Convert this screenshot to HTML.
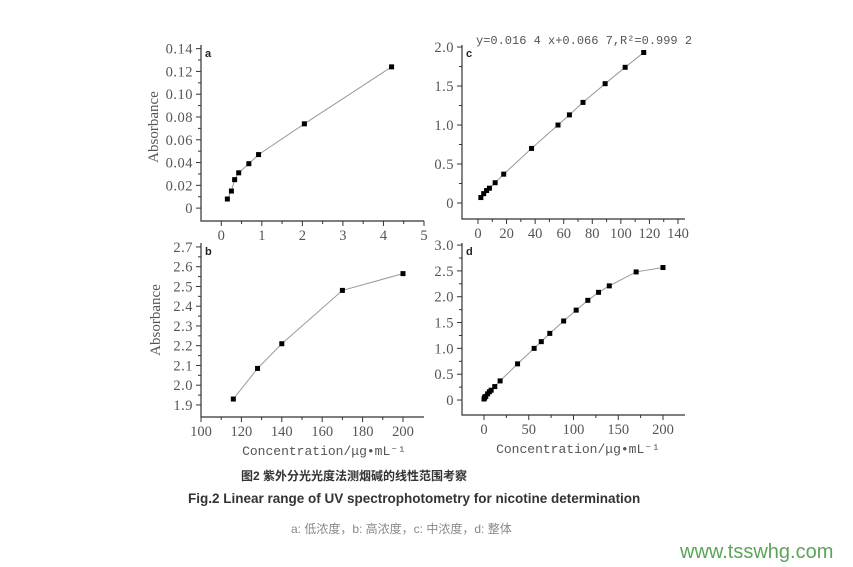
<!DOCTYPE html>
<html><head><meta charset="utf-8"><style>
body{margin:0;background:#fff;width:853px;height:567px;overflow:hidden;position:relative;font-family:"Liberation Sans","Noto Sans CJK SC",sans-serif}
.t{position:absolute;white-space:nowrap}
</style></head><body>
<svg id="chart" width="853" height="567" style="position:absolute;left:0;top:0"></svg>
<div class="t" style="left:241px;top:467px;font-size:12px;font-weight:bold;color:#333">图2 紫外分光光度法测烟碱的线性范围考察</div>
<div class="t" style="left:188px;top:491px;font-size:13.5px;font-weight:bold;color:#333">Fig.2 Linear range of UV spectrophotometry for nicotine determination</div>
<div class="t" style="left:291px;top:520px;font-size:12px;color:#888">a: 低浓度，b: 高浓度，c: 中浓度，d: 整体</div>
<div class="t" style="left:680px;top:541px;font-size:20px;color:#5aa55a">www.tsswhg.com</div>
<script>
const aX=[0.15,0.25,0.33,0.43,0.68,0.92,2.05,4.2];
const aY=[0.008,0.015,0.025,0.031,0.039,0.047,0.074,0.124];
const bX=[116,128,140,170,200];
const bY=[1.93,2.085,2.21,2.48,2.565];
const cX=[2,4,6,8,12,18,37.5,56,64,73.5,89,103,116];
const cY=[0.07,0.12,0.16,0.19,0.26,0.37,0.7,1.0,1.13,1.29,1.53,1.74,1.93];
const dX=[0,0.5,1,2,4,6,8,12,18,37.5,56,64,73.5,89,103,116,128,140,170,200];
const dY=[0.02,0.04,0.06,0.07,0.12,0.16,0.19,0.26,0.37,0.7,1.0,1.13,1.29,1.53,1.74,1.93,2.085,2.21,2.48,2.565];
const aXT=["0","1","2","3","4","5"], aYT=["0","0.02","0.04","0.06","0.08","0.10","0.12","0.14"];
const bXT=["100","120","140","160","180","200"], bYT=["1.9","2.0","2.1","2.2","2.3","2.4","2.5","2.6","2.7"];
const cXT=["0","20","40","60","80","100","120","140"], cYT=["0","0.5","1.0","1.5","2.0"];
const dXT=["0","50","100","150","200"], dYT=["0","0.5","1.0","1.5","2.0","2.5","3.0"];
const svg=document.getElementById('chart');
const NS='http://www.w3.org/2000/svg';
function mk(tag,at,parent){const e=document.createElementNS(NS,tag);for(const k in at)e.setAttribute(k,at[k]);(parent||svg).appendChild(e);return e;}
function panel(p){
 const g=mk('g',{});
 
 
 const sx=v=>p.L+(v-p.x0)/(p.x1-p.x0)*(p.R-p.L);
 const sy=v=>p.B-(v-p.y0)/(p.y1-p.y0)*(p.B-p.T);
 const ax=mk('path',{d:`M${p.L},${p.T}V${p.B}H${p.R}`,stroke:'#333',fill:'none','stroke-width':1.2},g);
 
 
 p.xt.forEach((s,i)=>{const v=parseFloat(s);const x=sx(v);
  mk('line',{x1:x,x2:x,y1:p.B,y2:p.B+5,stroke:'#333'},g);
  if(i<p.xt.length-1){const xm=sx(v+p.xs/2);if(xm<p.R)mk('line',{x1:xm,x2:xm,y1:p.B,y2:p.B+3,stroke:'#333'},g);}
  const t=mk('text',{x:x,y:p.B+19,'text-anchor':'middle','font-size':14.5,fill:'#555','font-family':'Liberation Serif,serif'},g);t.textContent=s;
  
  });
 p.yt.forEach((s,i)=>{const v=parseFloat(s);const y=sy(v);
  mk('line',{x1:p.L-5,x2:p.L,y1:y,y2:y,stroke:'#333'},g);
  const ym=sy(v+p.ys/2);if(ym>p.T)mk('line',{x1:p.L-3,x2:p.L,y1:ym,y2:ym,stroke:'#333'},g);
  const t=mk('text',{x:p.L-8,y:y+5,'text-anchor':'end','font-size':14.5,fill:'#555','font-family':'Liberation Serif,serif','letter-spacing':'0.5'},g);t.textContent=s;
  
  });
 const pts=p.X.map((x,i)=>sx(x)+','+sy(p.Y[i])).join(' ');
 const ln=mk('polyline',{points:pts,fill:'none',stroke:'#999','stroke-width':1},g);
 
 
 p.X.forEach((x,i)=>{const r=mk('rect',{x:sx(x)-2.5,y:sy(p.Y[i])-2.5,width:5,height:5,fill:'#000'},g);
  
  });
 const lt=mk('text',{x:p.L+4,y:p.T+12,'font-size':11,'font-weight':'bold',fill:'#222'},g);lt.textContent=p.id;
 
 
 return g;
}
panel({id:'a',L:201,R:424,T:45,B:221,x0:-0.5,x1:5,y0:-0.0113,y1:0.1432,X:aX,Y:aY,xt:aXT,yt:aYT,xs:1,ys:0.02});
panel({id:'c',L:462,R:685,T:45,B:219,x0:-11.2,x1:144.9,y0:-0.205,y1:2.026,X:cX,Y:cY,xt:cXT,yt:cYT,xs:20,ys:0.5});
panel({id:'b',L:201,R:424,T:243,B:417,x0:100,x1:210.4,y0:1.839,y1:2.72,X:bX,Y:bY,xt:bXT,yt:bYT,xs:20,ys:0.1});
panel({id:'d',L:462,R:685,T:243,B:415,x0:-24.6,x1:224.6,y0:-0.29,y1:3.04,X:dX,Y:dY,xt:dXT,yt:dYT,xs:50,ys:0.5});
function txt(s,at,name){const t=mk('text',Object.assign({fill:'#555','font-family':'Liberation Serif,serif'},at));t.textContent=s;
 
 return t;}
txt('Absorbance',{x:0,y:0,'font-size':15,'text-anchor':'middle',transform:'translate(158,127) rotate(-90)'},'y-axis-title-a');
txt('Absorbance',{x:0,y:0,'font-size':15,'text-anchor':'middle',transform:'translate(160,320) rotate(-90)'},'y-axis-title-b');
txt('Concentration/μg•mL⁻¹',{x:324,y:455,'font-size':13,'text-anchor':'middle','font-family':'Liberation Mono,monospace'},'x-axis-title-b');
txt('Concentration/μg•mL⁻¹',{x:578,y:453,'font-size':13,'text-anchor':'middle','font-family':'Liberation Mono,monospace'},'x-axis-title-d');
txt('y=0.016 4 x+0.066 7,R²=0.999 2',{x:476,y:44,'font-size':12,'font-family':'Liberation Mono,monospace'},'regression-equation');
</script>
</body></html>
